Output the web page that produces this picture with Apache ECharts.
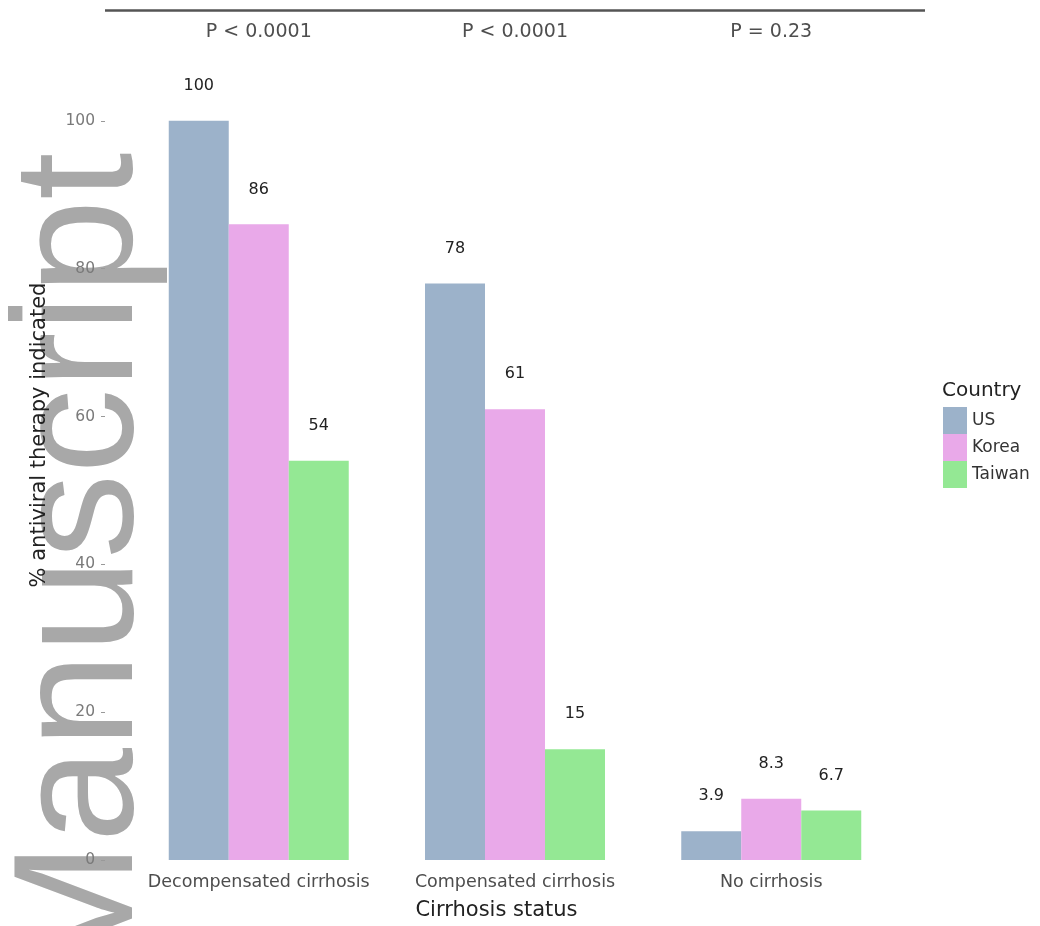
<!DOCTYPE html>
<html>
<head>
<meta charset="utf-8">
<script src="https://cdn.jsdelivr.net/npm/echarts@6/dist/echarts.min.js"></script>
<style>
  html, body { margin: 0; padding: 0; background: #ffffff; }
  #chart { width: 1040px; height: 926px; }
</style>
</head>
<body>
<div id="chart"></div>
<script>
// Cirrhosis status groups along the x axis (positions 1..3)
const categories = ['Decompensated cirrhosis', 'Compensated cirrhosis', 'No cirrhosis'];
const countries = ['US', 'Korea', 'Taiwan'];
// % antiviral therapy indicated, per country, per cirrhosis group
const usValues = [100, 78, 3.9];
const koreaValues = [86, 61, 8.3];
const taiwanValues = [54, 15, 6.7];
// P values comparing the three countries within each group
const pLabels = ['P < 0.0001', 'P < 0.0001', 'P = 0.23'];
const yTicks = [0, 20, 40, 60, 80, 100];
const xPositions = [1, 2, 3];

const colors = ['#9cb2ca', '#e9a9e9', '#94e894'];
const font = 'DejaVu Sans';

const chart = echarts.init(document.getElementById('chart'), null, { renderer: 'canvas' });

function barSeries(name, values, color) {
  return {
    name: name,
    type: 'bar',
    barWidth: 60,
    barGap: '0%',
    itemStyle: { color: color },
    data: values.map((v, i) => [xPositions[i], v]),
    label: {
      show: true,
      position: 'top',
      distance: 27,
      fontFamily: font,
      fontSize: 16,
      color: '#222222',
      formatter: p => String(p.value[1])
    },
    z: 3
  };
}

const option = {
  animation: false,
  backgroundColor: '#ffffff',
  textStyle: { fontFamily: font },
  grid: { left: 105, right: 115, top: 10, bottom: 66, containLabel: false },
  xAxis: {
    type: 'value',
    min: 0.4,
    max: 3.6,
    name: 'Cirrhosis status',
    nameLocation: 'middle',
    nameGap: 40,
    nameTextStyle: { fontFamily: font, fontSize: 21, color: '#222222', padding: [0, 37, 0, 0] },
    axisLine: { show: false },
    axisTick: { show: false },
    splitLine: { show: false },
    axisLabel: {
      customValues: xPositions,
      margin: 13,
      fontFamily: font,
      fontSize: 17.5,
      color: '#4d4d4d',
      formatter: v => categories[Math.round(v) - 1] || ''
    }
  },
  yAxis: {
    type: 'value',
    min: 0,
    max: 115,
    name: '% antiviral therapy indicated',
    nameLocation: 'middle',
    nameGap: 55,
    nameTextStyle: { fontFamily: font, fontSize: 21, color: '#222222' },
    axisLine: { show: false },
    splitLine: { show: false },
    axisTick: { show: true, customValues: yTicks, length: 4, lineStyle: { color: '#999999' } },
    axisLabel: { customValues: yTicks, margin: 10, fontFamily: font, fontSize: 15.5, color: '#7a7a7a' }
  },
  legend: {
    data: countries,
    orient: 'vertical',
    left: 938,
    top: 402,
    itemWidth: 24,
    itemHeight: 27,
    itemGap: 0,
    icon: 'rect',
    textStyle: { fontFamily: font, fontSize: 17, color: '#333333' },
    selectedMode: false
  },
  graphic: [
    {
      // Legend heading
      type: 'text',
      left: 942,
      top: 381,
      style: { text: 'Country', font: '20px "DejaVu Sans"', fill: '#222222' }
    },
    {
      // Large vertical "Manuscript" banner along the left edge
      type: 'text',
      x: 85,
      y: 984,
      rotation: Math.PI / 2,
      z: -10,
      style: {
        text: 'Manuscript',
        font: '170px "Liberation Sans"',
        fill: '#a8a8a8',
        textAlign: 'left',
        textVerticalAlign: 'middle'
      }
    }
  ],
  series: [
    barSeries(countries[0], usValues, colors[0]),
    barSeries(countries[1], koreaValues, colors[1]),
    barSeries(countries[2], taiwanValues, colors[2]),
    {
      // P-value annotations above each group, with the bracket line on top
      type: 'scatter',
      symbolSize: 0,
      silent: true,
      data: xPositions.map(x => [x, 112]),
      label: {
        show: true,
        position: 'inside',
        fontFamily: font,
        fontSize: 19,
        color: '#222222',
        formatter: p => pLabels[p.dataIndex]
      },
      markLine: {
        silent: true,
        symbol: 'none',
        label: { show: false },
        lineStyle: { color: '#555555', width: 2.5, type: 'solid' },
        data: [[{ coord: [0.4, 115] }, { coord: [3.6, 115] }]]
      }
    }
  ]
};

chart.setOption(option);
</script>
</body>
</html>
